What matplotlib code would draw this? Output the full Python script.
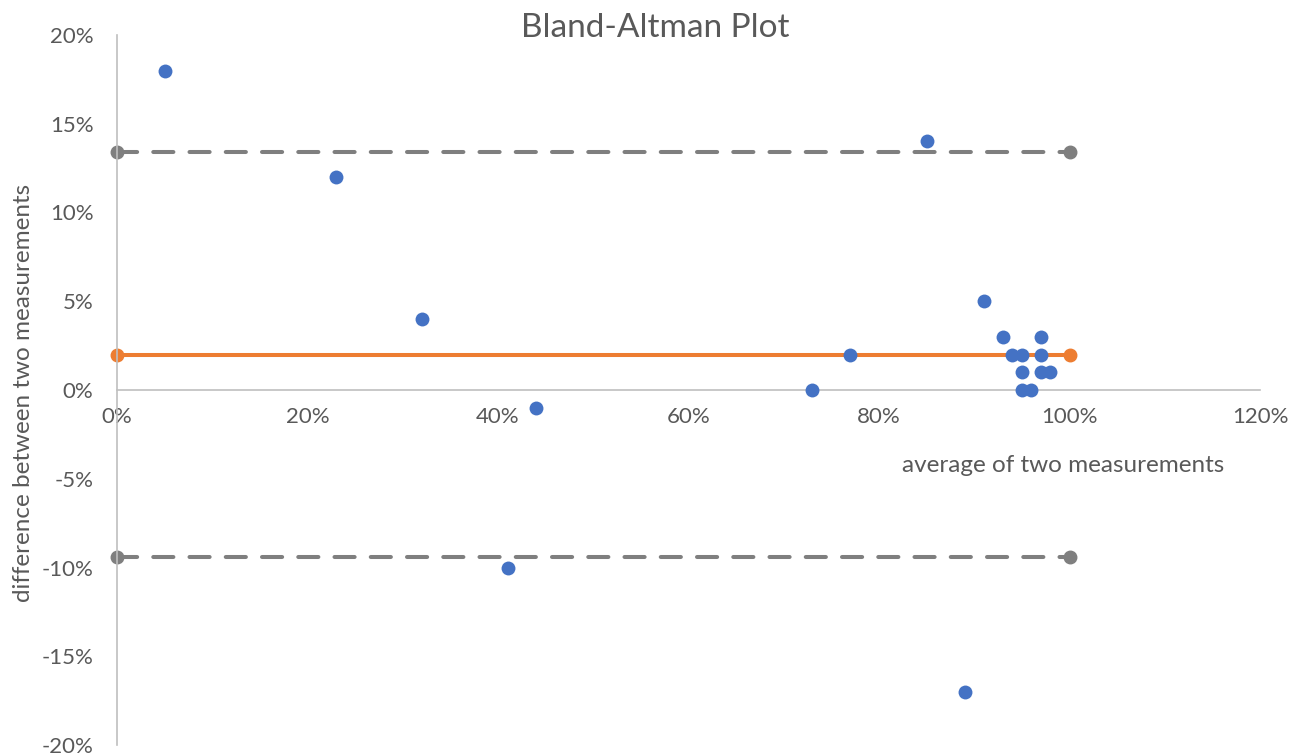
import matplotlib
matplotlib.use("Agg")
import matplotlib.pyplot as plt
from matplotlib.ticker import PercentFormatter

plt.rcParams['font.family'] = ['Lato', 'DejaVu Sans']
plt.rcParams['axes.unicode_minus'] = False

# average of two measurements (x) and their difference (y), as fractions
avg = [0.05, 0.23, 0.32, 0.44, 0.41, 0.73, 0.77, 0.85, 0.89, 0.91,
       0.93, 0.97, 0.94, 0.95, 0.97, 0.95, 0.97, 0.98, 0.95, 0.96]
diff = [0.18, 0.12, 0.04, -0.01, -0.10, 0.00, 0.02, 0.14, -0.17, 0.05,
        0.03, 0.03, 0.02, 0.02, 0.02, 0.01, 0.01, 0.01, 0.00, 0.00]

mean_diff = 0.02
upper_loa = 0.134
lower_loa = -0.094
line_x = [0.0, 1.0]

blue = "#4472C4"
orange = "#ED7D31"
gray = "#7F7F7F"
text_col = "#595959"
axis_col = "#BFBFBF"

fig = plt.figure(figsize=(12.98, 7.56), dpi=100)
ax = fig.add_axes([117 / 1298, 11 / 756, 1143 / 1298, 710 / 756])

for lvl in (upper_loa, lower_loa):
    ax.plot(line_x, [lvl, lvl], color=gray, lw=2.9, dashes=(5, 4),
            dash_capstyle='round', marker='o', markersize=9, zorder=2,
            clip_on=False)
ax.plot(line_x, [mean_diff, mean_diff], color=orange, lw=2.9,
        marker='o', markersize=9, zorder=2, clip_on=False)
ax.scatter(avg, diff, s=100, color=blue, zorder=3, linewidths=0, clip_on=False)

ax.set_xlim(0, 1.2)
ax.set_ylim(-0.2, 0.2)
ax.set_xticks([0, 0.2, 0.4, 0.6, 0.8, 1.0, 1.2])
ax.set_yticks([-0.2, -0.15, -0.1, -0.05, 0, 0.05, 0.1, 0.15, 0.2])
ax.xaxis.set_major_formatter(PercentFormatter(1.0, decimals=0))
ax.yaxis.set_major_formatter(PercentFormatter(1.0, decimals=0))

for s in ('top', 'right'):
    ax.spines[s].set_visible(False)
ax.spines['bottom'].set_position(('data', 0))
for s in ('left', 'bottom'):
    ax.spines[s].set_color(axis_col)
    ax.spines[s].set_linewidth(1.2)

ax.tick_params(axis='both', length=0, labelsize=16, labelcolor=text_col)
ax.tick_params(axis='x', pad=12)
ax.tick_params(axis='y', pad=17)

fig.text(655 / 1298, 1 - 28 / 756, "Bland-Altman Plot", ha='center', va='center',
         fontsize=24, color=text_col)
fig.text(1063 / 1298, 1 - 465 / 756, "average of two measurements", ha='center',
         va='center', fontsize=17.5, color=text_col)
fig.text(24 / 1298, 1 - 393 / 756, "difference between two measurements",
         rotation=90, ha='center', va='center', fontsize=17.5, color=text_col)

fig.savefig("out.png", dpi=100, facecolor='white')
